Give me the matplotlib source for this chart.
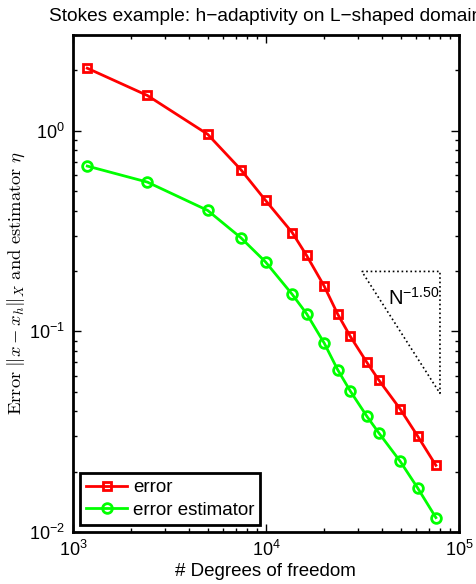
#!/usr/bin/python

"""
convergence of error and error estimator for the Stokes problem,
h-adaptive refinement on the L-shaped domain.
"""

import numpy as np
import matplotlib
matplotlib.use('Agg')
import matplotlib.pyplot as plt

plt.rcParams['font.family'] = ['Liberation Sans', 'DejaVu Sans']
plt.rcParams['mathtext.fontset'] = 'custom'
plt.rcParams['mathtext.rm'] = 'Liberation Sans'
plt.rcParams['mathtext.it'] = 'Liberation Sans:italic'

ndof = [1186, 2427, 4987, 7414, 9950, 13680, 16250, 20050, 23540, 27370,
        33380, 38360, 49650, 61100, 76000]
err = [2.05, 1.50, 0.961, 0.640, 0.450, 0.311, 0.239, 0.168, 0.122, 0.0944,
       0.0700, 0.0574, 0.0410, 0.0301, 0.0215]
est = [0.667, 0.555, 0.401, 0.293, 0.222, 0.153, 0.1225, 0.0874, 0.0644, 0.0504,
       0.0377, 0.0313, 0.0225, 0.0166, 0.0118]

# reference slope triangle
rate = -1.5
tri_x = [31400, 79800]
tri_y0 = 0.199


def main():
  fig = plt.figure(figsize=(4.77, 5.84), dpi=100)
  ax = fig.add_axes([0.153, 0.089, 0.809, 0.851])

  ax.loglog(ndof, err, '-s', color=(1, 0, 0), lw=2, ms=6, mew=2,
            mfc='none', label='error')
  ax.loglog(ndof, est, '-o', color=(0, 1, 0), lw=2, ms=7, mew=2,
            mfc='none', label='error estimator')

  x0, x1 = tri_x
  y1 = tri_y0 * (x1 / x0) ** rate
  ax.plot([x0, x1, x1, x0], [tri_y0, tri_y0, y1, tri_y0], 'k:', lw=1.2)
  ax.text(42800, 0.136, r'N$^{-1.50}$', fontsize=14.5)

  ax.set_xlim(1e3, 1e5)
  ax.set_ylim(1e-2, 3.0)
  ax.tick_params(which='both', direction='in', top=True, right=True,
                 labelsize=13, width=1, pad=6)
  ax.tick_params(which='major', length=6)
  ax.tick_params(which='minor', length=3)
  for s in ax.spines.values():
    s.set_linewidth(2)

  # long title runs past the right edge of the figure
  ax.set_title('Stokes example: h\u2212adaptivity on L\u2212shaped domain',
               fontsize=13.8, pad=10)
  ax.set_xlabel('# Degrees of freedom', fontsize=13.5, labelpad=2)
  ax.set_ylabel(r'$\mathrm{Error}\ \|x - x_h\|_X\ \mathrm{and\ estimator}\ \eta$',
                fontsize=13.3, math_fontfamily='cm')
  ax.yaxis.set_label_coords(-0.12, 0.5)

  leg = ax.legend(loc='lower left', fontsize=13.5, fancybox=False,
                  framealpha=1, edgecolor='k', borderaxespad=0.4,
                  handlelength=2.2, handletextpad=0.3, borderpad=0.3,
                  labelspacing=0.3)
  leg.get_frame().set_linewidth(2)

  fig.savefig('out.png', dpi=100)
  plt.close()


if __name__ == "__main__":
  main()
